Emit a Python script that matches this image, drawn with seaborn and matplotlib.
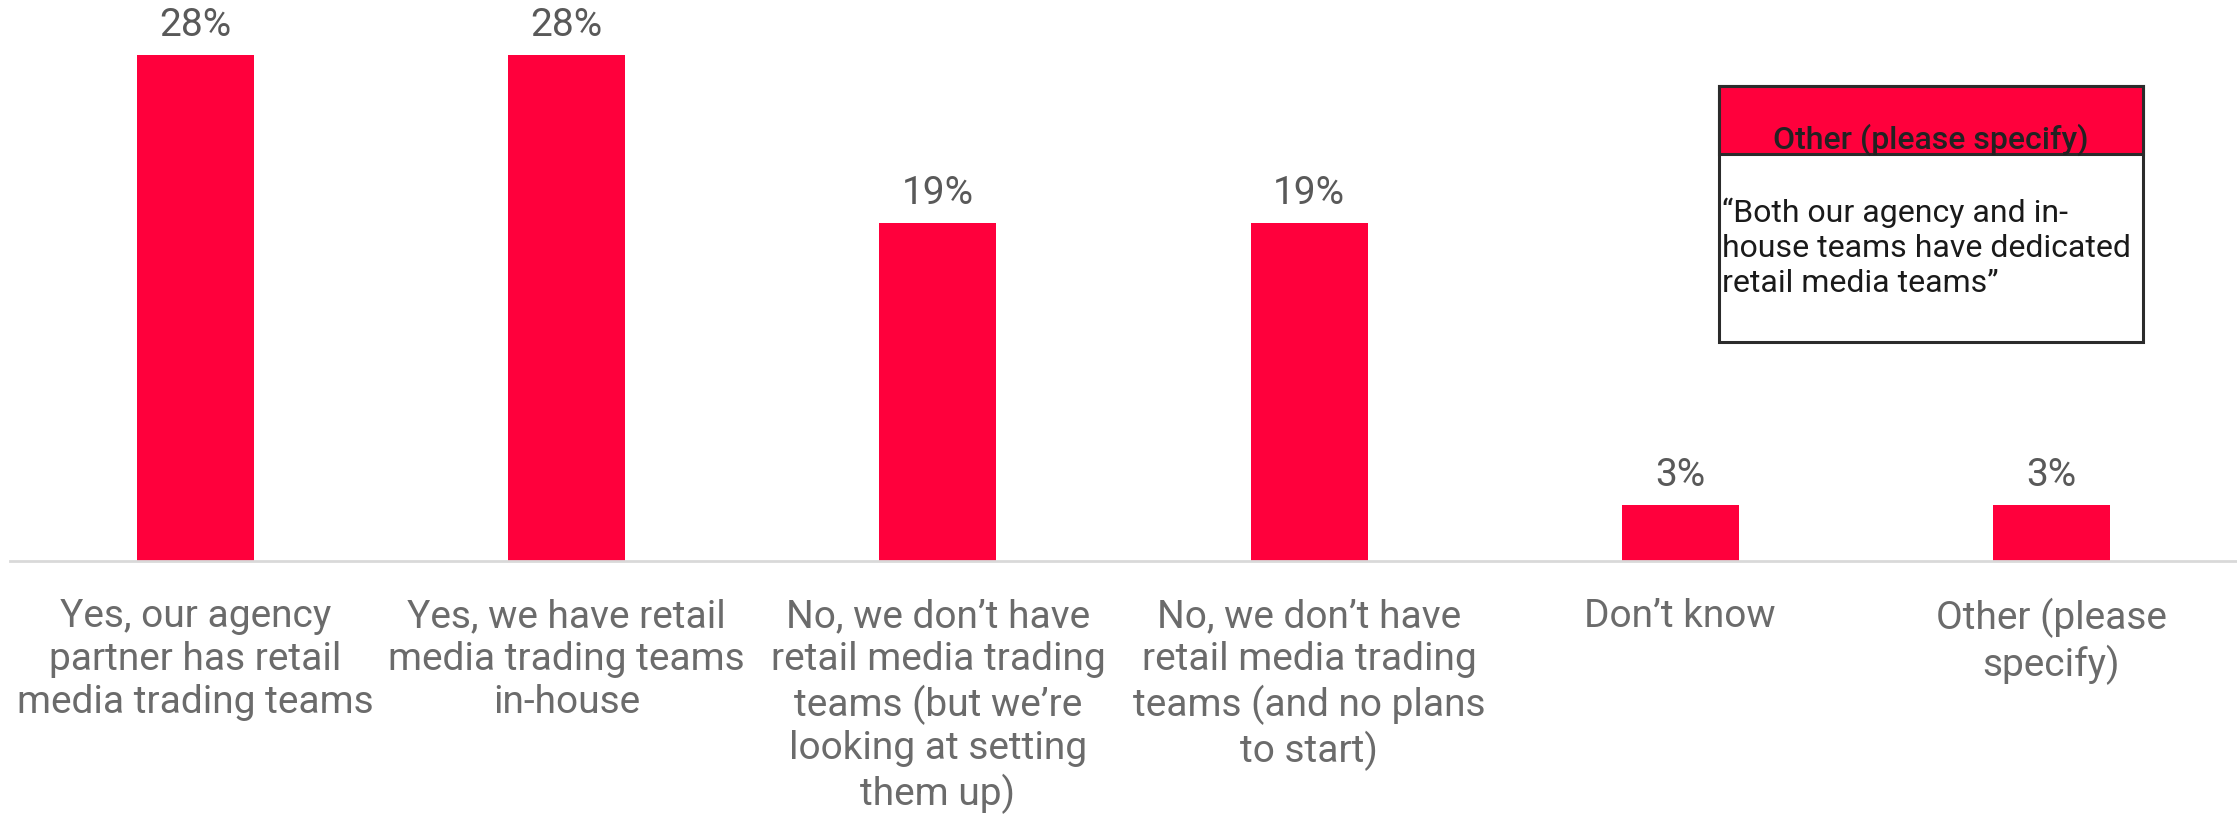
import matplotlib
matplotlib.use("Agg")
import matplotlib.pyplot as plt
import seaborn as sns
import pandas as pd
from matplotlib.patches import Rectangle

categories = [
    "Yes, our agency\npartner has retail\nmedia trading teams",
    "Yes, we have retail\nmedia trading teams\nin-house",
    "No, we don\u2019t have\nretail media trading\nteams (but we\u2019re\nlooking at setting\nthem up)",
    "No, we don\u2019t have\nretail media trading\nteams (and no plans\nto start)",
    "Don\u2019t know",
    "Other (please\nspecify)",
]
values = [0.281, 0.281, 0.1875, 0.1875, 0.031, 0.031]
value_labels = ["28%", "28%", "19%", "19%", "3%", "3%"]
box_title = "Other (please specify)"
box_text = "\u201cBoth our agency and in-\nhouse teams have dedicated\nretail media teams\u201d"

sns.set_theme(style="white")
plt.rcParams["font.family"] = ["Roboto", "DejaVu Sans"]

W, H = 2237, 815
fig = plt.figure(figsize=(W / 100, H / 100), dpi=100)
base_y = 560.7
px_per_unit = 18.0 * 100  # px per 1.0 (100%)
ymax = 0.30
ax_h = ymax * px_per_unit
ax = fig.add_axes([10 / W, 1 - base_y / H, (W - 10) / W, ax_h / H])

df = pd.DataFrame({"cat": categories, "val": values})
sns.barplot(data=df, x="cat", y="val", color="#FF003C", width=0.315,
            saturation=1, ax=ax, edgecolor="none")
ax.set_ylim(0, ymax)
ax.set_xlim(-0.5, 5.5)
ax.set_xlabel("")
ax.set_ylabel("")
ax.set_yticks([])
for s in ["top", "right", "left"]:
    ax.spines[s].set_visible(False)
ax.spines["bottom"].set_color("#d9d9d9")
ax.spines["bottom"].set_linewidth(2)
ax.tick_params(axis="x", length=0, pad=27, labelsize=28, labelcolor="#6b6b6b")
for lab in ax.get_xticklabels():
    lab.set_linespacing(1.2)
    lab.set_verticalalignment("top")

for i, (v, t) in enumerate(zip(values, value_labels)):
    ax.annotate(t, (i, v), xytext=(0, 8), textcoords="offset points",
                ha="center", va="bottom", fontsize=28, color="#595959")

# Text box
bx0, bx1 = 1719, 2143
by0, by1 = 86, 342
hy1 = 154
fig.patches.append(Rectangle((bx0 / W, 1 - by1 / H), (bx1 - bx0) / W, (by1 - by0) / H,
                             transform=fig.transFigure, facecolor="white",
                             edgecolor="#2b2b2b", linewidth=2.2, zorder=5))
fig.patches.append(Rectangle((bx0 / W, 1 - hy1 / H), (bx1 - bx0) / W, (hy1 - by0) / H,
                             transform=fig.transFigure, facecolor="#FF003C",
                             edgecolor="#2b2b2b", linewidth=2.2, zorder=6))
fig.text((bx0 + bx1) / 2 / W, 1 - 149 / H, box_title, ha="center", va="baseline",
         fontsize=23, fontweight="medium", color="#222222", zorder=7)
fig.text((bx0 + 3) / W, 1 - 248 / H, box_text, ha="left", va="center",
         fontsize=23, color="#1a1a1a", linespacing=1.25, zorder=7)

fig.savefig("out.png", dpi=100, facecolor="white")
